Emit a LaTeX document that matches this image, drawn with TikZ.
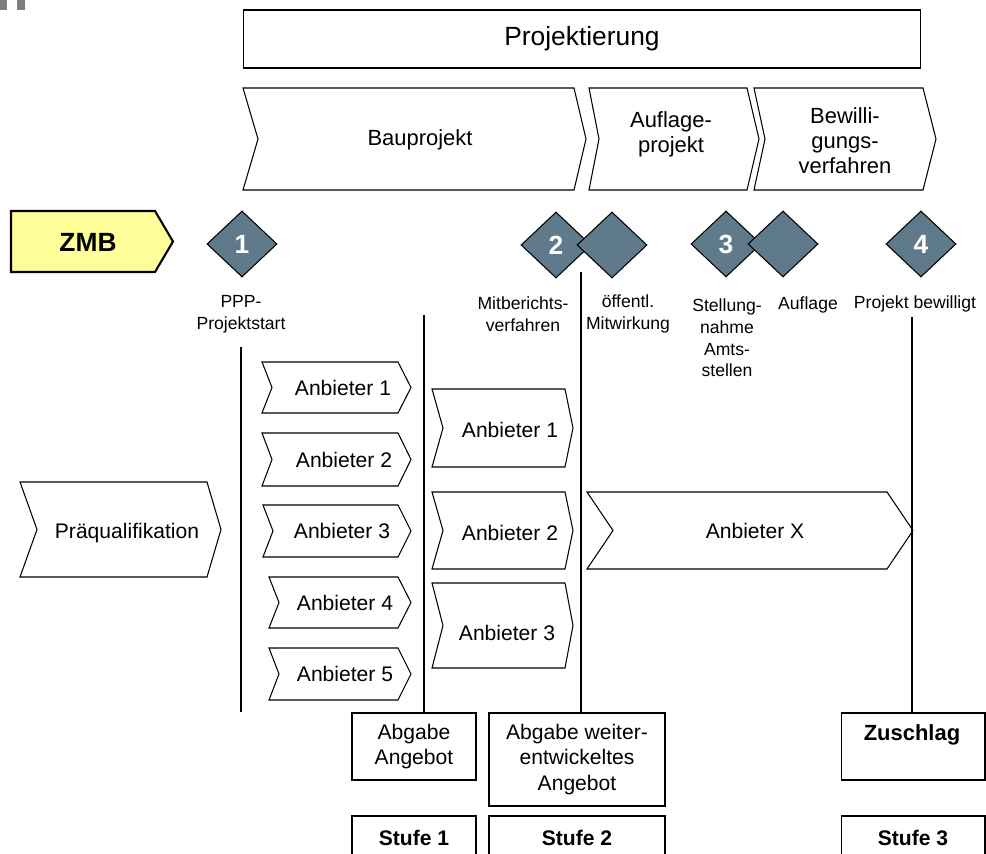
\documentclass[tikz,border=0pt]{standalone}
\usepackage{fontspec}
\setmainfont{Liberation Sans}
\usetikzlibrary{positioning, shapes.geometric, calc}
\definecolor{zmbYellow}{HTML}{FFFF99}
\definecolor{msSlate}{HTML}{5F7A8B}
\definecolor{cornerGray}{HTML}{7F7F7F}

% chevron outline: left, right, top, bottom, notch depth, tip depth
\newcommand{\chevshape}[6]{%
  \draw[chev] (#1,#3) -- ({#2-#6},#3) -- (#2,{(#3+#4)/2}) -- ({#2-#6},#4)
    -- (#1,#4) -- ({#1+#5},{(#3+#4)/2}) -- cycle;}

\begin{document}
\begin{tikzpicture}[x=0.02cm, y=-0.02cm, line width=0.6pt,
    chev/.style={draw=black, fill=white, line join=miter},
    lbl/.style={inner sep=0pt, align=center, font=\fontsize{12}{14.5}\selectfont},
    phase/.style={inner sep=0pt, align=center, font=\fontsize{12.5}{14.2}\selectfont},
    mslbl/.style={inner sep=0pt, align=center, font=\fontsize{10}{12.3}\selectfont},
    ms/.style={diamond, draw=black, fill=msSlate, minimum width=1.4cm, minimum height=1.32cm,
      inner sep=0pt, text=white, font=\fontsize{15}{18}\selectfont\bfseries},
    box/.style={draw=black, fill=white, inner sep=0pt, align=center, font=\fontsize{12}{14.5}\selectfont},
    stufe/.style={draw=black, fill=white, inner sep=0pt, minimum height=0.88cm,
      font=\fontsize{12}{14.5}\selectfont\bfseries}]
  \useasboundingbox (0,0) rectangle (986,854);
  \clip (0,0) rectangle (986,854);

  \fill[cornerGray] (0,0) rectangle (7,10);
  \fill[cornerGray] (17,0) rectangle (25,10);

  % Phasen
  \node[draw=black, minimum width=13.56cm, minimum height=1.16cm, inner sep=0pt,
    font=\fontsize{15}{18}\selectfont] (proj) at (582,39) {Projektierung};
  \chevshape{243}{586}{88}{190}{15}{12}
  \node[phase] (bau) at (420,140) {Bauprojekt};
  \chevshape{589}{759}{88}{190}{10}{12}
  \node[phase] (aufl) at (671,134) {Auflage-\\projekt};
  \chevshape{754}{936}{88}{190}{11}{13}
  \node[phase] (bew) at (845,141) {Bewilli-\\gungs-\\verfahren};

  % ZMB
  \draw[fill=zmbYellow, line width=1.2pt, line join=miter]
    (11,211) -- (155,211) -- (173,241.5) -- (155,272) -- (11,272) -- cycle;
  \node[font=\fontsize{15}{18}\selectfont\bfseries] (zmb) at (88,242) {ZMB};

  % Meilensteine
  \node[ms] (ms1) at (242,244) {1};
  \node[ms] (ms2) at (556,245) {2};
  \node[ms] (ms2b) at (612,245) {};
  \node[ms] (ms3) at (726,244) {3};
  \node[ms] (ms3b) at (783,244) {};
  \node[ms] (ms4) at (921,244) {4};

  \node[mslbl] (l1) at (241,314) {PPP-\\Projektstart};
  \node[mslbl] (l2) at (523,314) {Mitberichts-\\verfahren};
  \node[mslbl] (l2b) at (628,314) {öffentl.\\Mitwirkung};
  \node[mslbl] (l3) at (727,338) {Stellung-\\nahme\\Amts-\\stellen};
  \node[mslbl] (l3b) at (808,305) {Auflage};
  \node[mslbl] (l4) at (915,304) {Projekt bewilligt};

  % Anbieter
  \chevshape{20}{221}{482}{577}{17}{14}
  \node[lbl] (pq) at (127,533) {Präqualifikation};
  \foreach \i/\xl/\yt/\yb/\tx in {1/262/362/413/343, 2/262/433/486/344, 3/263/505/557/342,
                                  4/269/577/628/345, 5/269/648/700/345}{
    \chevshape{\xl}{411}{\yt}{\yb}{10}{13}
    \node[lbl] (a\i) at (\tx,{(\yt+\yb)/2}) {Anbieter \i};
  }
  \foreach \i/\yt/\yb/\tx/\ty in {1/389/467/510/430, 2/492/569/510/533, 3/583/668/507/633}{
    \chevshape{432}{573}{\yt}{\yb}{11}{8}
    \node[lbl] (b\i) at (\tx,\ty) {Anbieter \i};
  }
  \chevshape{587}{913}{492}{569}{26}{26}
  \node[lbl] (ax) at (755,531) {Anbieter X};

  % Abgaben und Stufen
  \node[box, minimum width=2.48cm, minimum height=1.34cm] (abg1) at (414,746.5) {Abgabe\\Angebot};
  \node[box, minimum width=3.52cm, minimum height=1.86cm] (abg2) at (577,759.5)
    {Abgabe weiter-\\entwickeltes\\Angebot};
  \node[box, minimum width=2.88cm, minimum height=1.34cm] (zbox) at (913,746.5) {};
  \node[font=\fontsize{12.5}{15}\selectfont\bfseries] (zus) at (912,735) {Zuschlag};
  \node[stufe, minimum width=2.48cm] (st1) at (414,838) {Stufe 1};
  \node[stufe, minimum width=3.52cm] (st2) at (577,838) {Stufe 2};
  \node[stufe, minimum width=2.88cm] (st3) at (913,838) {Stufe 3};

  % Zeitlinien
  \coordinate (v1) at (241,347);
  \coordinate (v1e) at (241,712);
  \coordinate (v2) at (424,315);
  \coordinate (v3) at (581,272);
  \coordinate (v4) at (912,317);
  \draw (v1) -- (v1e);
  \draw (v2) -- (v2 |- abg1.north);
  \draw (v3) -- (v3 |- abg2.north);
  \draw (v4) -- (v4 |- zbox.north);
\end{tikzpicture}
\end{document}
